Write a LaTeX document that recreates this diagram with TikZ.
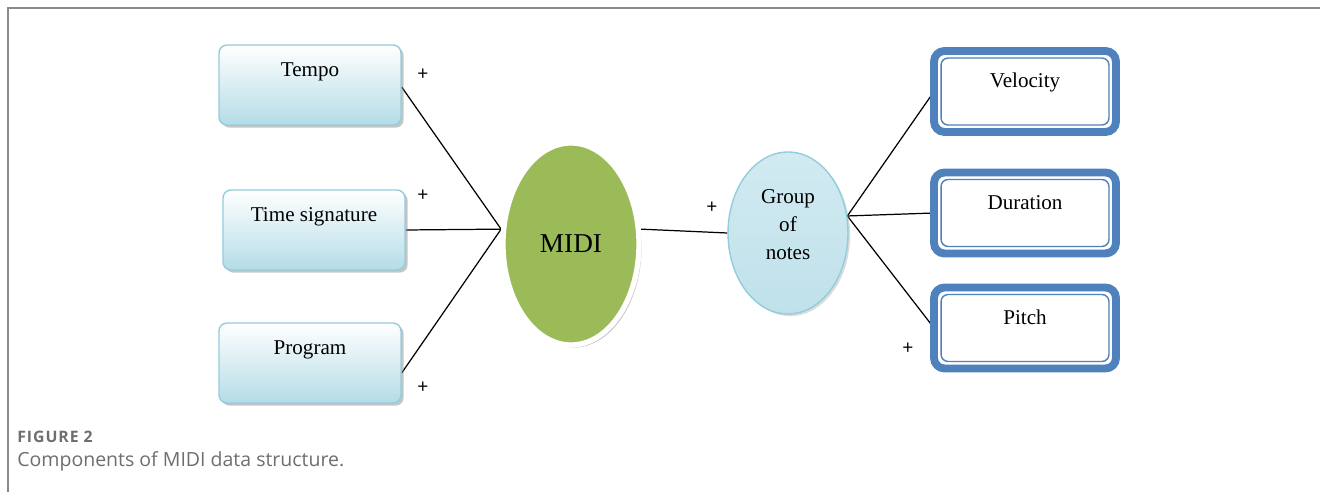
\documentclass[tikz,border=0pt]{standalone}
\usepackage{fontspec}
\setmainfont{Liberation Serif}
\setsansfont{Open Sans}
\usetikzlibrary{shapes.geometric, shadows, backgrounds}
\definecolor{framegray}{HTML}{8A8A8A}
\definecolor{capgray}{HTML}{6E6E6E}
\definecolor{boxline}{HTML}{93CDDD}
\definecolor{boxfill}{HTML}{B4DCE7}
\definecolor{midigreen}{HTML}{9BBB59}
\definecolor{noteblue}{HTML}{4F81BD}
\tikzset{
  leftbox/.style={rectangle, rounded corners=4.5pt, draw=boxline, line width=0.8pt,
    top color=white, bottom color=boxfill, minimum width=3.64cm, minimum height=1.6cm,
    inner sep=0pt, text height=0.64cm, text depth=0.96cm, font=\fontsize{12}{14}\selectfont,
    drop shadow={shadow xshift=1.5pt, shadow yshift=-1.5pt, fill=black!45, opacity=.5}},
  notebox/.style={rectangle, rounded corners=6pt, draw=noteblue, line width=4.5pt,
    fill=white, minimum width=3.64cm, minimum height=1.62cm, outer sep=0pt,
    inner sep=0pt, text height=0.74cm, text depth=0.88cm, font=\fontsize{12}{14}\selectfont},
  innerline/.style={draw=noteblue, line width=0.8pt, rounded corners=4pt},
  plus/.style={font=\sffamily\fontsize{11}{11}\selectfont, inner sep=0pt},
  link/.style={line width=0.7pt, black}
}
\begin{document}
\begin{tikzpicture}[x=0.02cm, y=-0.02cm]
    \useasboundingbox (0,0) rectangle (1320,492);
    % 1. Frame
    \draw[framegray, line width=1.1pt] (8,492) -- (8,8) -- (1320,8);

    % 2. Left boxes
    \node[leftbox] (tempo) at (310,85) {Tempo};
    \node[leftbox] (timesig) at (314,230) {Time signature};
    \node[leftbox] (program) at (310,363) {Program};

    % 3. Ellipses
    \node[ellipse, draw=white, line width=3pt, fill=midigreen, inner sep=0pt,
          minimum width=2.72cm, minimum height=4.04cm,
          drop shadow={shadow xshift=1.5pt, shadow yshift=-1.5pt, fill=black!50, opacity=.45},
          font=\fontsize{15.5}{18}\selectfont] (midi) at (571,244) {MIDI};
    \node[ellipse, draw=boxline, line width=0.8pt, top color=boxfill!60, bottom color=boxfill!85,
          inner sep=0pt, minimum width=2.4cm, minimum height=3.24cm,
          drop shadow={shadow xshift=1.2pt, shadow yshift=-1.2pt, fill=black!35, opacity=.4}] (group) at (788,233) {};
    \node[align=center, font=\fontsize{12}{16}\selectfont] (grouptxt) at (788,225) {Group\\of\\notes};

    % 4. Right boxes (double border)
    \node[notebox] (vel) at (1025,91.5) {Velocity};
    \node[notebox] (dur) at (1025,213) {Duration};
    \node[notebox] (pit) at (1025,328) {Pitch};
    \foreach \n in {vel,dur,pit}
        \draw[innerline] ([xshift=4pt,yshift=-4pt]\n.north west) rectangle ([xshift=-4pt,yshift=4pt]\n.south east);

    % 5. Connectors
    \begin{scope}[on background layer]
        \draw[link] ([yshift=-0.04cm]tempo.east) -- (midi.168);
        \draw[link] (timesig.east) -- (midi.168);
        \draw[link] ([yshift=-0.2cm]program.east) -- (midi.168);
        \draw[link] (midi.12) -- (group.west);
        \draw[link] (group.16) -- (vel.west);
        \draw[link] (group.16) -- (dur.west);
        \draw[link] (group.16) -- (pit.west);
    \end{scope}

    % 6. Plus signs
    \node[plus] (p1) at (423,75) {+};
    \node[plus] (p2) at (423,196) {+};
    \node[plus] (p3) at (423,388) {+};
    \node[plus] (p4) at (712,208) {+};
    \node[plus] (p5) at (908,349) {+};

    % 7. Caption
    \node[anchor=west, inner sep=0pt, text=capgray, font=\sffamily\bfseries\fontsize{9}{10}\selectfont\addfontfeatures{LetterSpace=6}] (figno) at (17,437) {FIGURE 2};
    \node[anchor=west, inner sep=0pt, text=capgray, font=\sffamily\fontsize{11.1}{13}\selectfont] (caption) at (17,461) {Components of MIDI data structure.};
\end{tikzpicture}
\end{document}
